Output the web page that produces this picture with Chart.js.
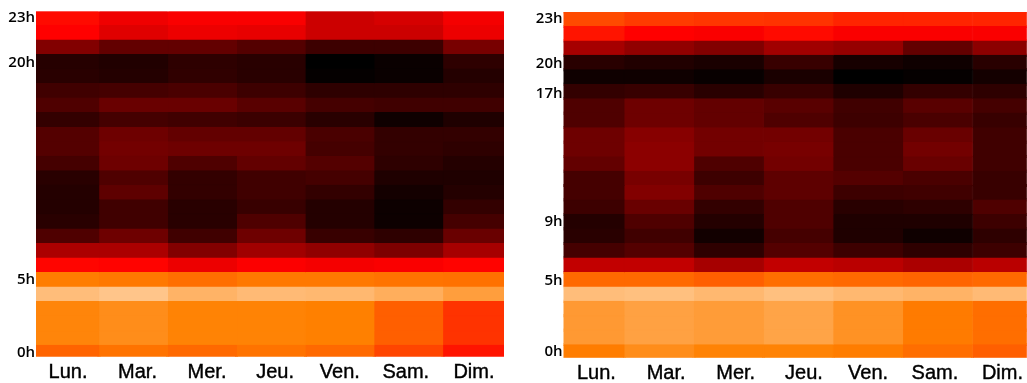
<!DOCTYPE html>
<html lang="fr">
<head>
<meta charset="utf-8">
<title>Heatmaps</title>
<script src="https://cdn.jsdelivr.net/npm/chart.js@4"></script>
<style>
  html, body { margin: 0; padding: 0; background: #fff; overflow: hidden; }
  #gauche, #droite { position: absolute; top: 0; }
  #gauche { left: 0; }
  #droite { left: 527px; }
</style>
</head>
<body>
<div id="gauche"><canvas id="chart-gauche"></canvas></div>
<div id="droite"><canvas id="chart-droite"></canvas></div>
<script>
const jours = ["Lun.", "Mar.", "Mer.", "Jeu.", "Ven.", "Sam.", "Dim."];
const heures = [23, 22, 21, 20, 19, 18, 17, 16, 15, 14, 13, 12, 11, 10, 9, 8, 7, 6, 5, 4, 3, 2, 1, 0];

// une ligne par heure (23h en haut), une colonne par jour
const valeursGauche = [
  [104, 94, 98, 98, 80, 84, 96],
  [100, 88, 93, 91, 80, 80, 93],
  [51, 39, 39, 33, 24, 24, 47],
  [15, 13, 18, 16, 0, 4, 18],
  [16, 14, 19, 16, 2, 4, 14],
  [25, 27, 29, 24, 18, 18, 18],
  [31, 41, 41, 35, 27, 25, 25],
  [20, 27, 25, 23, 16, 6, 12],
  [33, 43, 39, 39, 29, 20, 20],
  [33, 45, 43, 43, 27, 20, 18],
  [27, 43, 31, 39, 33, 18, 14],
  [16, 31, 20, 25, 27, 12, 12],
  [14, 37, 20, 25, 20, 8, 14],
  [14, 25, 16, 22, 14, 5, 20],
  [16, 25, 16, 31, 14, 5, 27],
  [31, 43, 25, 43, 22, 18, 41],
  [67, 67, 51, 63, 57, 49, 65],
  [102, 101, 93, 99, 96, 98, 101],
  [149, 147, 143, 147, 147, 145, 144],
  [174, 177, 170, 173, 172, 168, 162],
  [152, 155, 151, 151, 150, 137, 120],
  [152, 155, 151, 151, 150, 137, 120],
  [152, 155, 151, 151, 150, 137, 120],
  [139, 145, 141, 145, 141, 127, 108],
];

const valeursDroite = [
  [129, 123, 121, 120, 114, 114, 114],
  [108, 100, 98, 104, 98, 98, 98],
  [65, 57, 51, 63, 59, 39, 55],
  [16, 13, 10, 22, 9, 6, 16],
  [6, 6, 3, 10, 0, 2, 8],
  [20, 22, 16, 22, 12, 20, 18],
  [31, 43, 39, 35, 25, 35, 27],
  [31, 43, 39, 31, 24, 29, 22],
  [43, 53, 45, 45, 29, 41, 25],
  [43, 55, 45, 47, 29, 45, 25],
  [39, 55, 31, 45, 29, 41, 25],
  [27, 47, 24, 37, 33, 29, 22],
  [27, 51, 31, 37, 24, 25, 22],
  [24, 41, 20, 31, 16, 18, 31],
  [14, 31, 14, 31, 12, 12, 24],
  [16, 25, 7, 27, 12, 6, 18],
  [27, 33, 18, 33, 24, 18, 24],
  [76, 76, 65, 76, 73, 67, 73],
  [141, 141, 137, 143, 141, 139, 141],
  [174, 175, 172, 175, 172, 170, 173],
  [160, 163, 161, 164, 157, 148, 143],
  [160, 163, 161, 164, 157, 148, 143],
  [160, 163, 161, 164, 157, 148, 143],
  [149, 155, 151, 151, 149, 143, 137],
];

// heures affichées sur l'axe : le 17h de droite est posé sur la ligne 18, comme dans l'original
const heuresGauche = { 0: "0h", 5: "5h", 19.95: "20h", 23: "23h" };
const heuresDroite = { 0: "0h", 4.95: "5h", 9: "9h", 17.85: "17h", 19.9: "20h", 23: "23h" };

const joursTicksGauche = [0.05, 1.06, 2.07, 3.06, 4.0, 4.96, 5.95];
const joursTicksDroite = [0.10, 1.10, 2.10, 3.08, 4.0, 4.96, 5.93];

// noir -> rouge -> orange -> blanc
function couleur(v){
  if(v <= 100) return `rgb(${Math.round(v * 2.55)},0,0)`;
  if(v <= 150) return `rgb(255,${Math.round((v - 100) * 2.56)},0)`;
  return `rgb(255,${Math.round(128 + (v - 150) * 2.54)},${Math.round((v - 150) * 5.1)})`;
}

function dessiner(id, largeur, valeurs, cfg){
  const canvas = document.getElementById(id);
  canvas.style.width = largeur + "px";
  canvas.style.height = "383px";
  canvas.width = largeur;
  canvas.height = 383;

  const datasets = jours.map((jour, j) => {
    const teintes = heures.map((h, i) => couleur(valeurs[i][j]));
    return {
      label: jour,
      data: heures.map((h) => ({ x: [j - 0.5, j + 0.5], y: h })),
      backgroundColor: teintes,
      borderColor: teintes, // bordure de même teinte, sinon on voit des joints entre les cases
      borderWidth: 1,
      borderSkipped: false,
      inflateAmount: 0.4,
      grouped: false,
      barPercentage: 1,
      categoryPercentage: 1,
    };
  });

  return new Chart(canvas, {
    type: "bar",
    data: { datasets },
    options: {
      indexAxis: "y",
      responsive: false,
      animation: false,
      layout: { padding: { top: cfg.haut, right: cfg.droite, left: 0, bottom: 0 } },
      plugins: { legend: { display: false }, tooltip: { enabled: false } },
      scales: {
        x: {
          type: "linear",
          min: cfg.xMin,
          max: cfg.xMax,
          grid: { display: false, drawTicks: false },
          border: { display: false },
          ticks: {
            color: "#000",
            font: { family: "Liberation Sans", size: 20 },
            textStrokeColor: "#000",
            textStrokeWidth: 0.4,
            padding: 4,
            maxRotation: 0,
            autoSkip: false,
            callback: (val, index) => jours[index],
          },
          afterBuildTicks: (axis) => { axis.ticks = cfg.joursTicks.map((value) => ({ value })); },
          afterFit: (axis) => { axis.height = cfg.basAxe; },
        },
        y: {
          type: "linear",
          offset: false,
          min: cfg.yMin,
          max: cfg.yMax,
          grid: { display: false, drawTicks: false, offset: false },
          border: { display: false },
          ticks: {
            color: "#000",
            font: { family: "Open Sans", size: 15, weight: "600" },
            padding: 1,
            autoSkip: false,
            callback: (val) => cfg.heuresTicks[val],
          },
          afterBuildTicks: (axis) => {
            axis.ticks = Object.keys(cfg.heuresTicks).map((h) => ({ value: Number(h) }));
          },
          afterFit: (axis) => { axis.width = cfg.largeurAxe; },
        },
      },
    },
  });
}

dessiner("chart-gauche", 510, valeursGauche, {
  haut: 11.5, droite: 6, basAxe: 26.3, largeurAxe: 36,
  xMin: -0.416, xMax: 6.387, yMin: -0.3, yMax: 23.45,
  joursTicks: joursTicksGauche, heuresTicks: heuresGauche,
});

dessiner("chart-droite", 500, valeursDroite, {
  haut: 12, droite: 0, basAxe: 25.3, largeurAxe: 36.5,
  xMin: -0.373, xMax: 6.28, yMin: -0.4, yMax: 23.49,
  joursTicks: joursTicksDroite, heuresTicks: heuresDroite,
});
</script>
</body>
</html>
